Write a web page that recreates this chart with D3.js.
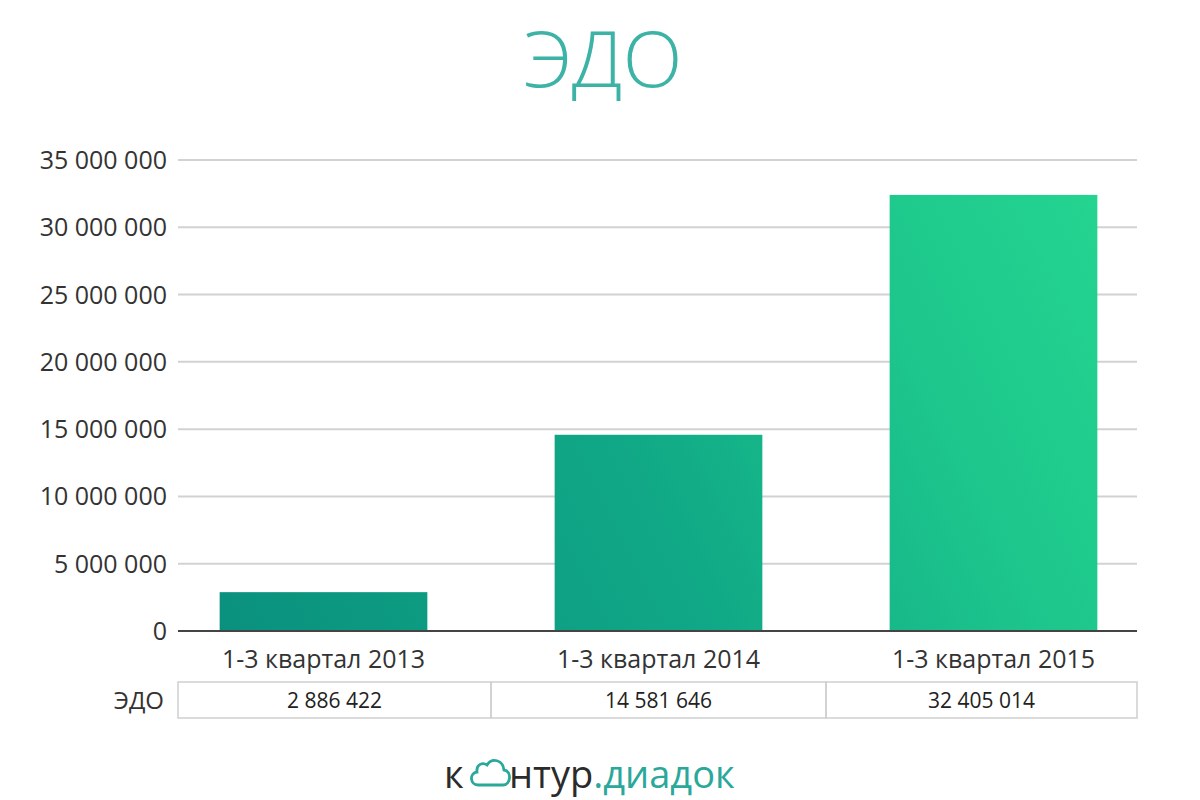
<!DOCTYPE html>
<html><head><meta charset="utf-8">
<script src="https://cdn.jsdelivr.net/npm/d3@7"></script>
<style>body{margin:0;background:#fff;} svg{display:block;}</style>
</head><body>
<svg id="c" width="1200" height="800"></svg>
<script>
const title = "ЭДО";
const categories = ["1-3 квартал 2013", "1-3 квартал 2014", "1-3 квартал 2015"];
const values = [2886422, 14581646, 32405014];
const valueLabels = ["2 886 422", "14 581 646", "32 405 014"];
const seriesName = "ЭДО";
const yTicks = [0, 5000000, 10000000, 15000000, 20000000, 25000000, 30000000, 35000000];

const svg = d3.select("#c");
const font = "'Open Sans', 'Noto Sans', sans-serif";
const plotL = 178, plotR = 1137;
const y = d3.scaleLinear().domain([0, 35000000]).range([631, 160]);
const x = d3.scaleBand().domain(categories).range([156, 1161]).paddingInner(0.38).paddingOuter(0.19);

const defs = svg.append("defs");
const g = defs.append("linearGradient").attr("id","bg").attr("gradientUnits","userSpaceOnUse")
  .attr("x1",220).attr("y1",631).attr("x2",1098).attr("y2",190);
g.append("stop").attr("offset","0").attr("stop-color","#0a917e");
g.append("stop").attr("offset","0.45").attr("stop-color","#10a886");
g.append("stop").attr("offset","0.75").attr("stop-color","#1dc68c");
g.append("stop").attr("offset","1").attr("stop-color","#24d490");

// title
svg.append("text").attr("x",603).attr("y",87).attr("text-anchor","middle")
  .attr("font-family",font).attr("font-weight",300).attr("font-size",78)
  .attr("fill","#3cb3a6").text(title);

// grid
const fmt = v => d3.format(",")(v).replace(/,/g, " ");
svg.append("g").selectAll("line").data(yTicks.filter(d=>d>0)).join("line")
  .attr("x1",plotL).attr("x2",plotR).attr("y1",d=>y(d)).attr("y2",d=>y(d))
  .attr("stroke","#d2d2d2").attr("stroke-width",2);
svg.append("g").selectAll("text").data(yTicks).join("text")
  .attr("x",167).attr("y",d=>y(d)).attr("dy","0.36em").attr("text-anchor","end")
  .attr("font-family",font).attr("font-size",25).attr("fill","#333").text(fmt);

// bars
svg.append("g").selectAll("rect").data(values).join("rect")
  .attr("x",(d,i)=>x(categories[i])).attr("width",x.bandwidth())
  .attr("y",d=>y(d)).attr("height",d=>y(0)-y(d)).attr("fill","url(#bg)");

// axis
svg.append("line").attr("x1",plotL).attr("x2",plotR).attr("y1",y(0)).attr("y2",y(0))
  .attr("stroke","#444").attr("stroke-width",2);

// category labels
svg.append("g").selectAll("text").data(categories).join("text")
  .attr("x",d=>x(d)+x.bandwidth()/2).attr("y",668).attr("text-anchor","middle")
  .attr("font-family",font).attr("font-size",25).attr("fill","#333").text(d=>d);

// data table
const centers = categories.map(c=>x(c)+x.bandwidth()/2);
const edges = [plotL, (centers[0]+centers[1])/2, (centers[1]+centers[2])/2, plotR];
const tt = 682, tb = 718;
const tg = svg.append("g");
for (let i=0;i<3;i++){
  tg.append("rect").attr("x",edges[i]).attr("y",tt).attr("width",edges[i+1]-edges[i]).attr("height",tb-tt)
    .attr("fill","none").attr("stroke","#cfcfcf").attr("stroke-width",1.5);
}
tg.selectAll("text.v").data(valueLabels).join("text").attr("class","v")
  .attr("x",(d,i)=>(edges[i]+edges[i+1])/2).attr("y",(tt+tb)/2).attr("dy","0.36em")
  .attr("text-anchor","middle").attr("font-family",font).attr("font-size",21).attr("fill","#222").text(d=>d);
tg.append("text").attr("x",164).attr("y",(tt+tb)/2).attr("dy","0.36em").attr("text-anchor","end")
  .attr("font-family",font).attr("font-size",24).attr("fill","#333").text(seriesName);

// logo
const lg = svg.append("g");
lg.append("text").attr("x",444).attr("y",788).attr("font-family",font).attr("font-size",38)
  .attr("fill","#2b2b2b").text("к");
lg.append("path")
  .attr("d","M478,785 L503,785 C511,785 512,771 504,770 C503,760 492,757 487,765 C483,762 476,764 477,772 C469,773 470,785 478,785 Z")
  .attr("fill","none").attr("stroke","#2aa89a").attr("stroke-width",2.8);
const t2 = lg.append("text").attr("x",509).attr("y",788).attr("font-family",font).attr("font-size",38);
t2.append("tspan").attr("fill","#2b2b2b").text("нтур");
t2.append("tspan").attr("fill","#2aa89a").text(".диадок");
</script>
</body></html>
